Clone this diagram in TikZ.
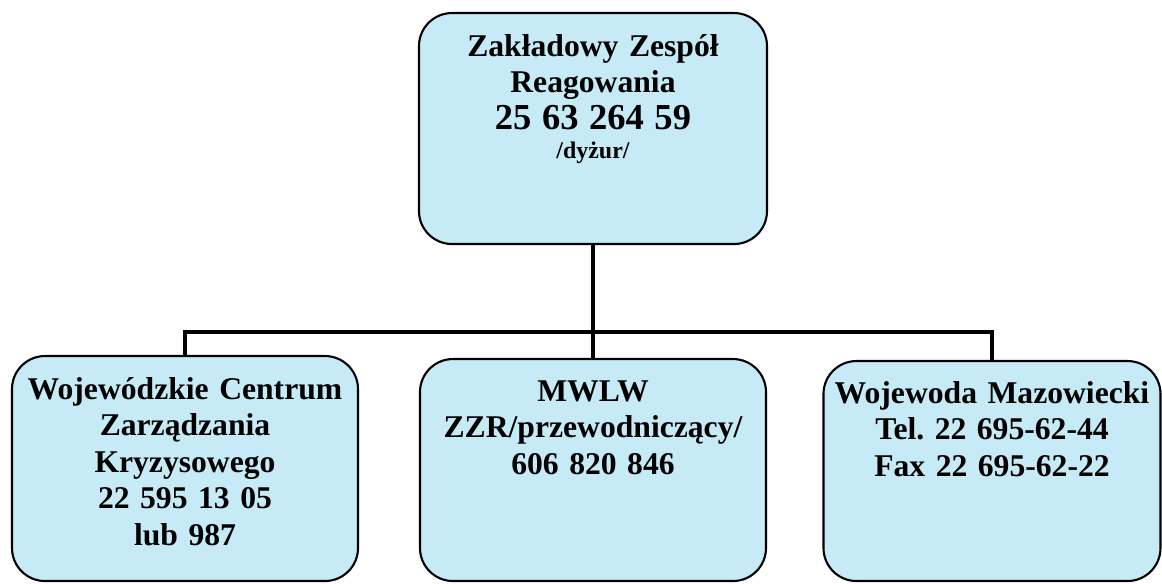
\documentclass[tikz,border=0pt]{standalone}
\usepackage{fontspec}
\setmainfont{Liberation Serif}[WordSpace=0.75]
\usepackage{tikz}
\definecolor{boxblue}{RGB}{198,234,246}
\frenchspacing

\begin{document}
\begin{tikzpicture}[line width = 1.4pt,
								box/.style = {draw, fill = boxblue, line width = 0.6pt,
								rounded corners = 0.33cm, inner sep = 0pt, anchor = north,
								align = center, font = \bfseries\fontsize{9}{10.4}\selectfont}]

				\useasboundingbox (0,0) rectangle (11.62,5.84);

				\node [box, text width = 3.48cm, text height = 0.43cm, text depth = 1.88cm]
				(zzr) at (5.93,5.72) {Zakładowy Zespół\\ Reagowania\\
				{\fontsize{10.4}{10.4}\selectfont 25 63 264 59}\\[-2pt]
				{\fontsize{6.8}{10.4}\selectfont /dyżur/}};

				\node [box, text width = 3.46cm, text height = 0.43cm, text depth = 1.82cm]
				(wczk) at (1.85,2.29) {Wojewódzkie Centrum\\ Zarządzania\\ Kryzysowego\\
				22 595 13 05\\ lub 987};
				\node [box, text width = 3.46cm, text height = 0.42cm, text depth = 1.80cm]
				(mwlw) at (5.93,2.26) {MWLW\\ ZZR/przewodniczący/\\ 606 820 846};
				\node [box, text width = 3.37cm, text height = 0.42cm, text depth = 1.78cm]
				(woj) at (9.92,2.24) {Wojewoda Mazowiecki\\ Tel. 22 695-62-44\\ Fax 22 695-62-22};

				\coordinate (bus) at (5.93,2.52);

				\draw (zzr.south) -- (mwlw.north);
				\draw (wczk.north) -- (wczk.north |- bus) -- (woj.north |- bus) -- (woj.north);
			\end{tikzpicture}
\end{document}
